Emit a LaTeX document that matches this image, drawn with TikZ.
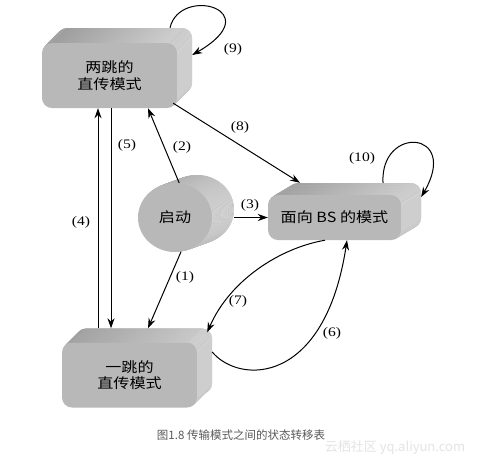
\documentclass[tikz,border=0pt]{standalone}
\usepackage{fontspec}
\usetikzlibrary{arrows.meta,positioning,calc,shapes.geometric}
\newfontfamily\cjk[FakeStretch=1.15]{Noto Sans CJK SC}
\newfontfamily\numfont[FakeStretch=1.2]{Liberation Serif}
\newfontfamily\capfont{Noto Sans CJK SC}
\definecolor{facegray}{HTML}{B8B8B8}
\definecolor{sidedark}{HTML}{9A9A9A}
\definecolor{sidelight}{HTML}{D2D2D2}
\definecolor{capgray}{HTML}{5A5A5A}
\definecolor{markgray}{HTML}{E4E4E4}

\begin{document}
\begin{tikzpicture}[x=1pt,y=-1pt,
  face/.style={rectangle,rounded corners=10pt,inner sep=0pt,fill=facegray,
               font=\cjk\fontsize{14}{16.5}\selectfont,align=center},
  side/.style={face,left color=sidedark,right color=sidelight},
  modebox/.style={minimum width=135pt,minimum height=65pt},
  bsbox/.style={minimum width=133pt,minimum height=45pt},
  disc/.style={ellipse,inner sep=0pt,minimum width=74pt,minimum height=69pt,
               fill=facegray,font=\cjk\fontsize{14}{16.5}\selectfont},
  trans/.style={line width=1pt,-{Stealth[length=10pt,width=7pt]}},
  lbl/.style={font=\numfont\fontsize{13}{13}\selectfont,inner sep=1pt}
]
  \fill[white] (0,0) rectangle (486,467);
  \useasboundingbox (0,0) rectangle (486,467);

  % Two-hop box (extruded up and to the right)
  \node[side,modebox] (twohopb) at (124.5,60.5) {};
  \foreach \k in {14,13,...,1}
    \node[side,modebox,xshift=\k pt,yshift=\k pt] at (109.5,75.5) {};
  \node[face,modebox] (twohop) at (109.5,75.5) {两跳的\\直传模式};

  % One-hop box
  \node[side,modebox] (onehopb) at (144.5,361) {};
  \foreach \k in {14,13,...,1}
    \node[side,modebox,xshift=\k pt,yshift=\k pt] at (129.5,375) {};
  \node[face,modebox] (onehop) at (129.5,375) {一跳的\\直传模式};

  % BS box
  \node[side,bsbox] (bsb) at (354.5,205.5) {};
  \foreach \k in {19,18,...,1}
    \node[side,bsbox,xshift={1pt*\k},yshift={0.6pt*\k}] at (334.5,217.5) {};
  \node[face,bsbox] (bs) at (334.5,217.5) {面向 BS 的模式};

  % Start cylinder
  \node[disc,left color=sidedark,right color=sidelight] (startb) at (197,209.5) {};
  \foreach \k in {19,18,...,1}
    \node[disc,left color=sidedark,right color=sidelight,
          xshift={1.1pt*\k},yshift={0.4pt*\k}] at (175,217.5) {};
  \node[disc] (start) at (175,217.5) {启动};

  % Transitions
  \draw[trans] (start.-80) -- ([xshift=3.5pt]onehopb.north);
  \draw[trans] (start.83) -- ([xshift=38.5pt]twohop.south);
  \draw[trans] (bs.west -| startb.east) -- (bs.west);
  \draw[trans] ([xshift=-11.5pt]twohop.south |- onehopb.north) -- ([xshift=-11.5pt]twohop.south);
  \draw[trans] ([xshift=1.5pt]twohop.south) -- ([xshift=1.5pt]twohop.south |- onehopb.north);
  \draw[trans] ([yshift=9pt]onehopb.east) .. controls (240,385) and (325,385) .. ([xshift=12.5pt]bs.south);
  \draw[trans] ([xshift=-9.5pt]bs.south) .. controls (280,248) and (230,280) .. ([xshift=-5pt,yshift=-4pt]onehopb.north east);
  \draw[trans] ([xshift=-4pt,yshift=5pt]twohop.south east) -- ([xshift=-54.5pt]bsb.north);
  \draw[trans] ([xshift=45.5pt]twohopb.north) .. controls (180,-15) and (270,10) .. ([yshift=5.5pt]twohopb.east);
  \draw[trans] ([xshift=28.5pt]bsb.north) .. controls (380,125) and (460,130) .. ([yshift=8.5pt]bsb.east);

  % Transition labels
  \node[lbl] (l1) at (185,277) {(1)};
  \node[lbl] (l2) at (182,147) {(2)};
  \node[lbl] (l3) at (250,205) {(3)};
  \node[lbl] (l4) at (81,222) {(4)};
  \node[lbl] (l5) at (127,145) {(5)};
  \node[lbl] (l6) at (332,333) {(6)};
  \node[lbl] (l7) at (238,301) {(7)};
  \node[lbl] (l8) at (240,127) {(8)};
  \node[lbl] (l9) at (233,49) {(9)};
  \node[lbl] (l10) at (362,158) {(10)};

  % Caption and watermark
  \node[font=\capfont\fontsize{11.5}{12}\selectfont,text=capgray] (caption) at (241,435)
    {图1.8 传输模式之间的状态转移表};
  \node[font=\capfont\fontsize{13}{13}\selectfont,text=markgray] (mark) at (395,448)
    {云栖社区 yq.aliyun.com};
\end{tikzpicture}
\end{document}
